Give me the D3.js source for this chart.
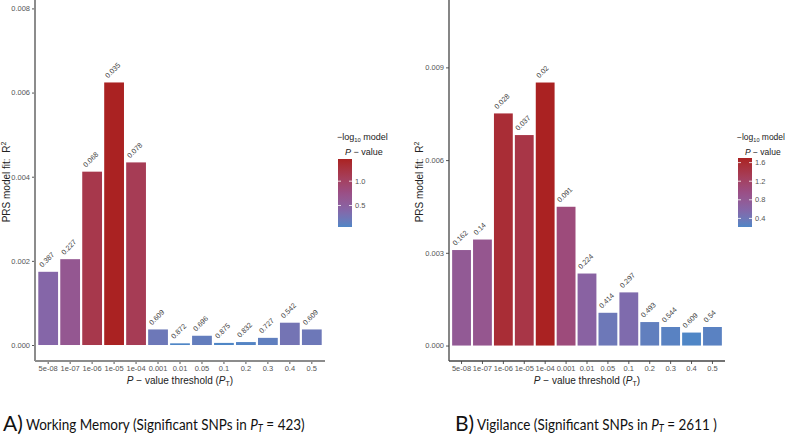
<!DOCTYPE html>
<html><head><meta charset="utf-8">
<script src="https://cdn.jsdelivr.net/npm/d3@7"></script>
<style>
html,body{margin:0;padding:0;background:#fff;}
svg{display:block;}
</style></head>
<body>
<svg id="chart" width="786" height="435" font-family="Liberation Sans, Arial, sans-serif"></svg>
<script>
// ---------- DATA ----------
const categories = ["5e-08","1e-07","1e-06","1e-05","1e-04","0.001","0.01","0.05","0.1","0.2","0.3","0.4","0.5"];
// Working Memory panel
const wmR2 = [0.00174,0.00204,0.00412,0.00624,0.00434,0.00037,0.00004,0.00022,0.00005,0.00007,0.00017,0.00053,0.00037];
const wmP  = ["0.387","0.227","0.068","0.035","0.078","0.609","0.872","0.696","0.875","0.832","0.727","0.542","0.609"];
const wmYTicks = [0, 0.002, 0.004, 0.006, 0.008];
const wmLegendTicks = [0.5, 1.0];
// Vigilance panel
const vigR2 = [0.00309,0.00343,0.00751,0.00681,0.00851,0.00449,0.00233,0.00106,0.00172,0.00076,0.00060,0.00042,0.00060];
const vigP  = ["0.162","0.14","0.028","0.037","0.02","0.091","0.224","0.414","0.297","0.493","0.544","0.609","0.54"];
const vigYTicks = [0, 0.003, 0.006, 0.009];
const vigLegendTicks = [0.4, 0.8, 1.2, 1.6];

// colour ramp (low -> high)
const rampColors = ["#4f86c6", "#8566a8", "#9a4f86", "#a63c55", "#aa2222"];
const FONT = "Liberation Sans, Arial, sans-serif";

const svg = d3.select("#chart");
const defs = svg.append("defs");

function panel(opt){
  const {r2, pv, yTicks, legTicks, x0, x1, yDomain, axisColor, axisWidth, legX, legTop, legBot, ytitleX, id, titleFs} = opt;
  const g = svg.append("g").attr("font-family", FONT);
  const bottom = 361;
  const x = d3.scaleBand().domain(categories).range([x0, x1]).paddingInner(0.1).paddingOuter(0.15);
  const y = d3.scaleLinear().domain(yDomain).range([bottom, 0]);
  const lp = pv.map(p => -Math.log10(+p));
  const ext = d3.extent(lp);
  const col = d3.scaleLinear()
    .domain(rampColors.map((c, i) => ext[0] + (ext[1] - ext[0]) * i / (rampColors.length - 1)))
    .range(rampColors).interpolate(d3.interpolateLab);

  // bars
  g.selectAll("rect.bar").data(categories).join("rect")
    .attr("x", d => x(d)).attr("width", x.bandwidth())
    .attr("y", (d,i) => y(r2[i])).attr("height", (d,i) => y(0) - y(r2[i]))
    .attr("fill", (d,i) => col(lp[i]));

  // bar labels
  g.selectAll("text.lab").data(categories).join("text")
    .attr("transform", (d,i) => `translate(${x(d) + x.bandwidth()/2 - 6},${y(r2[i]) - 4}) rotate(-45)`)
    .attr("font-size", 7.2).attr("fill", "#444").attr("font-family", FONT)
    .text((d,i) => pv[i]);

  // y axis
  const ya = d3.axisLeft(y).tickValues(yTicks).tickFormat(d3.format(".3f")).tickSize(3).tickPadding(2);
  const yg = g.append("g").attr("transform", `translate(${x0},0)`).call(ya).attr("font-family", FONT);
  yg.select(".domain").remove();
  yg.selectAll(".tick line").attr("stroke", "#555");
  yg.selectAll(".tick text").attr("font-size", 7.5).attr("fill", "#555");
  g.append("line").attr("x1", x0).attr("x2", x0).attr("y1", 0).attr("y2", bottom)
    .attr("stroke", axisColor).attr("stroke-width", axisWidth);

  // x axis
  const xa = d3.axisBottom(x).tickSize(3).tickPadding(2);
  const xg = g.append("g").attr("transform", `translate(0,${bottom})`).call(xa).attr("font-family", FONT);
  xg.select(".domain").remove();
  xg.selectAll(".tick line").attr("stroke", "#555");
  xg.selectAll(".tick text").attr("font-size", 7.5).attr("fill", "#555");
  g.append("line").attr("x1", x0).attr("x2", x1).attr("y1", bottom).attr("y2", bottom)
    .attr("stroke", axisColor).attr("stroke-width", axisWidth);

  // x title
  const xt = g.append("text").attr("x", (x0+x1)/2).attr("y", 384).attr("text-anchor", "middle")
    .attr("font-size", 10).attr("fill", "#222");
  xt.append("tspan").attr("font-style", "italic").text("P");
  xt.append("tspan").text(" \u2212 value threshold (");
  xt.append("tspan").attr("font-style", "italic").text("P");
  xt.append("tspan").attr("font-size", 7).attr("dy", 2).text("T");
  xt.append("tspan").attr("dy", -2).text(")");

  // y title
  const yt = g.append("text").attr("transform", `translate(${ytitleX},182) rotate(-90)`)
    .attr("text-anchor", "middle").attr("font-size", 10).attr("fill", "#222");
  yt.append("tspan").text("PRS model fit:\u00a0 R");
  yt.append("tspan").attr("font-size", 7).attr("dy", -4).text("2");

  // legend
  const gradId = "grad" + id;
  const grad = defs.append("linearGradient").attr("id", gradId)
    .attr("x1", 0).attr("y1", 1).attr("x2", 0).attr("y2", 0);
  d3.range(0, 1.0001, 0.05).forEach(t => {
    grad.append("stop").attr("offset", t).attr("stop-color", col(ext[0] + t*(ext[1]-ext[0])));
  });
  const lw = 14;
  g.append("rect").attr("x", legX).attr("y", legTop).attr("width", lw).attr("height", legBot - legTop)
    .attr("fill", `url(#${gradId})`);
  const ly = d3.scaleLinear().domain(ext).range([legBot, legTop]);
  legTicks.forEach(t => {
    const yy = ly(t);
    g.append("line").attr("x1", legX).attr("x2", legX+3).attr("y1", yy).attr("y2", yy).attr("stroke", "#fff").attr("stroke-width", 0.8);
    g.append("line").attr("x1", legX+lw-3).attr("x2", legX+lw).attr("y1", yy).attr("y2", yy).attr("stroke", "#fff").attr("stroke-width", 0.8);
    g.append("text").attr("x", legX + lw + 3).attr("y", yy).attr("dy", "0.35em")
      .attr("font-size", 7.5).attr("fill", "#555").text(d3.format(".1f")(t));
  });
  const t1 = g.append("text").attr("x", legX - 1).attr("y", 140).attr("font-size", titleFs).attr("fill", "#222");
  t1.append("tspan").text("\u2212log");
  t1.append("tspan").attr("font-size", titleFs*0.65).attr("dy", 2).text("10");
  t1.append("tspan").attr("dy", -2).text(" model");
  const t2 = g.append("text").attr("x", legX + 7).attr("y", 155).attr("font-size", titleFs).attr("fill", "#222");
  t2.append("tspan").attr("font-style", "italic").text("P");
  t2.append("tspan").text(" \u2212 value");
}

panel({r2: wmR2, pv: wmP, yTicks: wmYTicks, legTicks: wmLegendTicks, x0: 35, x1: 325,
  yDomain: [-0.00038, 0.0082], axisColor: "#8c8c8c", axisWidth: 2, legX: 338, legTop: 159, legBot: 227,
  ytitleX: 10, id: "a", titleFs: 9});
panel({r2: vigR2, pv: vigP, yTicks: vigYTicks, legTicks: vigLegendTicks, x0: 449, x1: 725,
  yDomain: [-0.0005, 0.01118], axisColor: "#444", axisWidth: 1.3, legX: 738, legTop: 158, legBot: 227,
  ytitleX: 423, id: "b", titleFs: 8.5});

// captions: letter + label, horizontally fitted to the reference width
function caption(letterX, letter, textX, textEnd, label, count){
  svg.append("text").attr("x", letterX).attr("y", 431).attr("fill", "#111")
    .attr("font-family", "Lato, 'Open Sans', sans-serif").attr("font-size", 21).text(letter);
  const g = svg.append("g");
  const t = g.append("text").attr("x", 0).attr("y", 0).attr("fill", "#111")
    .attr("font-family", "Lato, 'Open Sans', sans-serif").attr("font-size", 16);
  t.append("tspan").text(label + " (Significant SNPs in ");
  t.append("tspan").attr("font-style", "italic").text("P");
  t.append("tspan").attr("font-size", 11).attr("font-style", "italic").attr("dy", 2).text("T");
  t.append("tspan").attr("dy", -2).text(" = " + count);
  const w = t.node().getComputedTextLength();
  const sx = (textEnd - textX) / w;
  g.attr("transform", `translate(${textX},430) scale(${sx},1)`);
}
caption(3, "A)", 26, 305, "Working Memory", "423)");
caption(455, "B)", 477, 717, "Vigilance", "2611 )");
</script>
</body></html>
